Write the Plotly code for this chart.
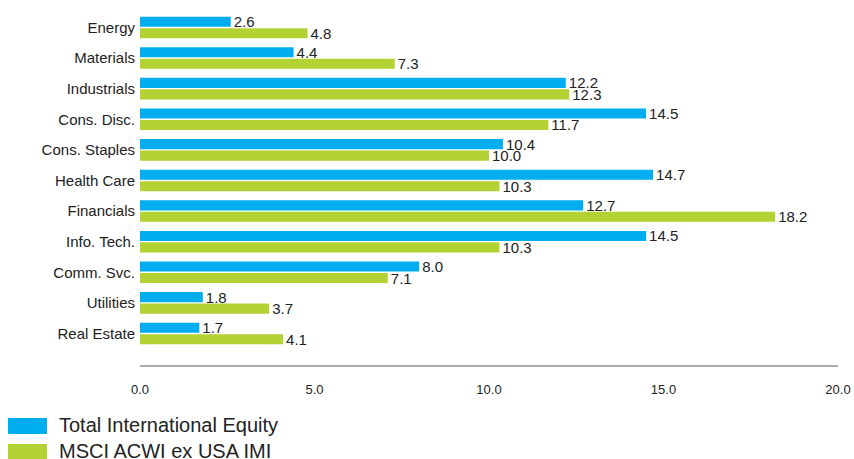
import plotly.graph_objects as go

# Sector weights (%)
sectors = ["Energy", "Materials", "Industrials", "Cons. Disc.", "Cons. Staples",
           "Health Care", "Financials", "Info. Tech.", "Comm. Svc.", "Utilities",
           "Real Estate"]
portfolio = [2.6, 4.4, 12.2, 14.5, 10.4, 14.7, 12.7, 14.5, 8.0, 1.8, 1.7]
benchmark = [4.8, 7.3, 12.3, 11.7, 10.0, 10.3, 18.2, 10.3, 7.1, 3.7, 4.1]

series_names = ["Total International Equity", "MSCI ACWI ex USA IMI"]
series_colors = ["#00AEEF", "#B3D335"]
x_ticks = [0, 5, 10, 15, 20]

FONT = "Liberation Sans, Arial, sans-serif"
TXT = "#222222"

fig = go.Figure()
for name, vals, col in zip(series_names, [portfolio, benchmark], series_colors):
    fig.add_trace(go.Bar(
        y=sectors, x=vals, name=name, orientation="h",
        marker=dict(color=col, line=dict(width=0)),
        texttemplate="%{x:.1f}", textposition="outside",
        textfont=dict(family=FONT, size=15, color=TXT),
        constraintext="none", cliponaxis=False,
        showlegend=False,
    ))

fig.update_layout(
    width=854, height=459,
    margin=dict(l=140, r=16, t=10, b=94),
    paper_bgcolor="white", plot_bgcolor="white",
    barmode="group", bargap=0.25, bargroupgap=0.12,
    font=dict(family=FONT, color=TXT),
    xaxis=dict(
        range=[0, 20], tickvals=x_ticks, tickformat=".1f",
        automargin=False,
        showgrid=False, zeroline=False,
        showline=True, linecolor="#ABABAB", linewidth=2,
        ticks="", ticklabelstandoff=11,
        tickfont=dict(family=FONT, size=13, color=TXT),
    ),
    yaxis=dict(
        categoryorder="array", categoryarray=sectors,
        range=[11.03, -0.57], automargin=False,
        showgrid=False, zeroline=False, showline=False,
        ticks="", ticklabelstandoff=4,
        tickfont=dict(family=FONT, size=15, color=TXT),
    ),
)

# Legend drawn as wide swatches with labels below the axis
for i, (name, col) in enumerate(zip(series_names, series_colors)):
    top = -53 - 26 * i
    fig.add_shape(
        type="rect", xref="paper", yref="paper",
        xsizemode="pixel", ysizemode="pixel", xanchor=0, yanchor=0,
        x0=-132, x1=-93, y0=top, y1=top - 16,
        fillcolor=col, line=dict(width=0),
    )
    fig.add_annotation(
        x=0, y=0, xref="paper", yref="paper",
        xanchor="left", yanchor="middle",
        xshift=-83, yshift=top - 7,
        text=name, showarrow=False,
        font=dict(family=FONT, size=20, color=TXT),
    )

fig.write_html("out.html")
